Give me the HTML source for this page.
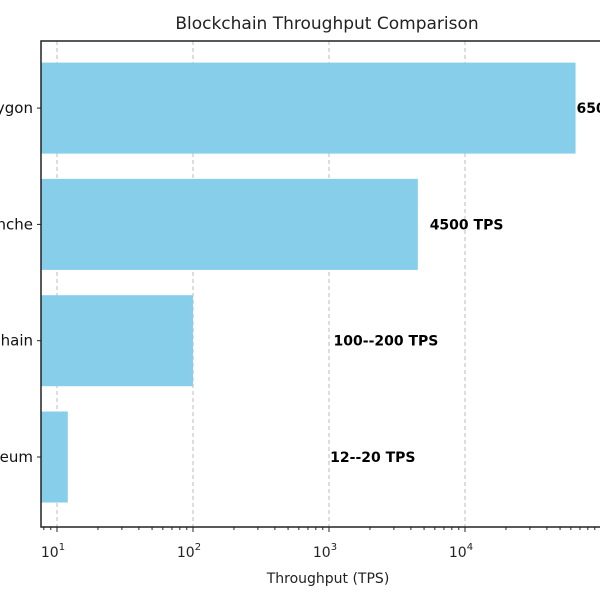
<!DOCTYPE html>
<html><head><meta charset="utf-8"><style>
body{margin:0;background:#fff;width:600px;height:600px;overflow:hidden}
svg{display:block;font-family:"DejaVu Sans","Liberation Sans",sans-serif}
</style></head><body>
<svg id="chart" width="600" height="600"></svg>
<script>
const categories = ["Ethereum", "Binance Smart Chain", "Avalanche", "Polygon"];
const values = [12, 100, 4500, 65000];
const valueLabels = ["12--20 TPS", "100--200 TPS", "4500 TPS", "65000 TPS"];
const labelPositions = [1020, 1080, 5500, 66000];
const tickLabels = ["1", "2", "3", "4"];

const NS = "http://www.w3.org/2000/svg";
const svgEl = document.getElementById("chart");
const plotLeft = 41, plotTop = 41, plotBottom = 527, plotRight = 640;
const x0 = 57, perDecade = 136;
function xScale(v){ return x0 + (Math.log10(v) - 1) * perDecade; }
const slot = 116.3;
function yCenter(i){ return 457 - slot * i; }
const barH = 91;
function mk(tag, attrs, parent){ const e = document.createElementNS(NS, tag); for (const k in attrs) e.setAttribute(k, attrs[k]); (parent || svgEl).appendChild(e); return e; }

for (let d = 1; d <= 4; d++) {
  const g = mk("line", {x1: xScale(Math.pow(10, d)), x2: xScale(Math.pow(10, d)), y1: plotTop, y2: plotBottom, stroke: "#bbb", "stroke-dasharray": "4,3", "stroke-width": 1});
  
  
}
categories.forEach((c, i) => {
  const xv = xScale(values[i]);
  const b = mk("rect", {x: plotLeft, y: yCenter(i) - barH / 2, width: xv - plotLeft, height: barH, fill: "#87ceeb"});
  
  
  const t = mk("text", {x: xScale(labelPositions[i]), y: yCenter(i) + 5, "font-size": 14, "font-weight": "bold", fill: "#000"});
  t.textContent = valueLabels[i];
  
  
  const yl = mk("text", {x: 33, y: yCenter(i) + 5, "font-size": 15, "text-anchor": "end", fill: "#111"});
  yl.textContent = c;
  
  
  const tk = mk("line", {x1: 37, x2: 41, y1: yCenter(i), y2: yCenter(i), stroke: "#222"});
  
  
});
const fr = mk("path", {d: "M" + plotRight + "," + plotTop + " H" + plotLeft + " V" + plotBottom + " H" + plotRight, fill: "none", stroke: "#222", "stroke-width": 1.5});


for (let d = 0; d <= 4; d++) for (let m = 2; m <= 9; m++) {
  const x = xScale(m * Math.pow(10, d));
  if (x < plotLeft || x > 600) continue;
  const mt = mk("line", {x1: x, x2: x, y1: plotBottom, y2: plotBottom + 3, stroke: "#222"});
  
  
}
tickLabels.forEach(p => {
  const x = xScale(Math.pow(10, +p));
  const tk = mk("line", {x1: x, x2: x, y1: plotBottom, y2: plotBottom + 5, stroke: "#222"});
  
  
  const t = mk("text", {x: x - 4, y: 557, "font-size": 14, "text-anchor": "middle", fill: "#222"});
  
  
  const base = mk("tspan", {}, t);
  base.textContent = "10";
  const sup = mk("tspan", {dy: -7, "font-size": 10}, t);
  sup.textContent = p;
});
const xt = mk("text", {x: 328, y: 583, "font-size": 14, "text-anchor": "middle", fill: "#222"});
xt.textContent = "Throughput (TPS)";


const ti = mk("text", {x: 327, y: 29, "font-size": 17, "text-anchor": "middle", fill: "#222"});
ti.textContent = "Blockchain Throughput Comparison";


</script>
</body></html>
